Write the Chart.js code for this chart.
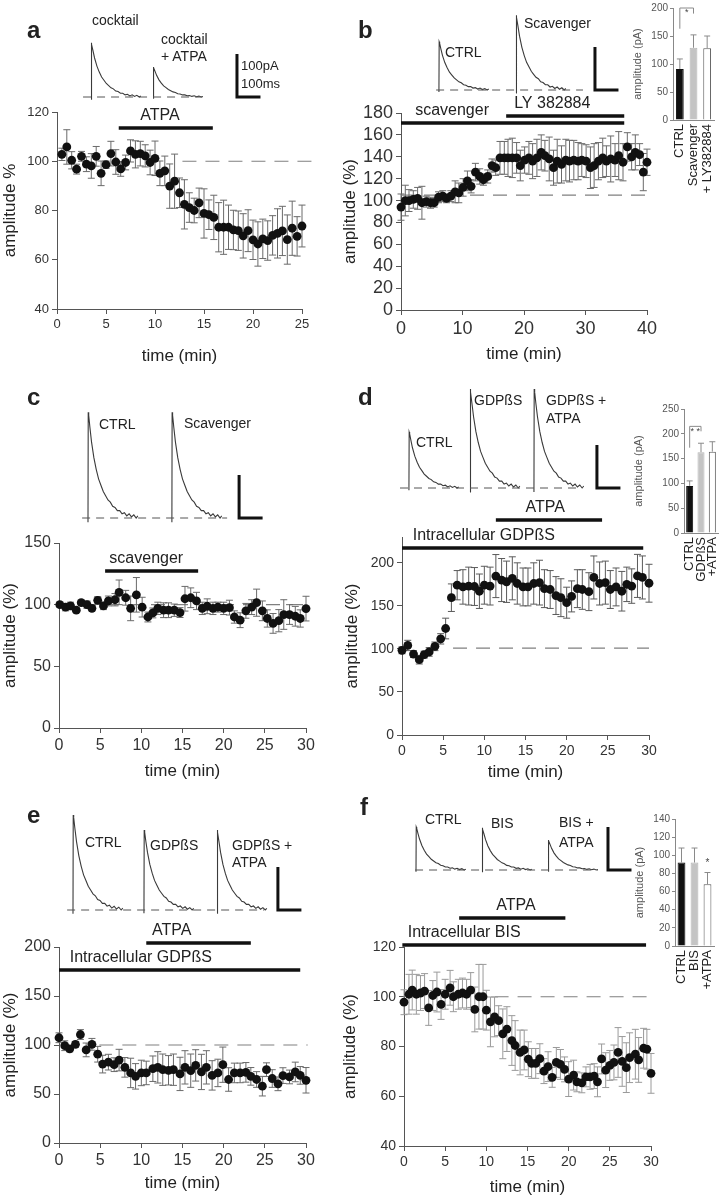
<!DOCTYPE html>
<html>
<head>
<meta charset="utf-8">
<script src="https://cdn.jsdelivr.net/npm/chart.js@4.4.1/dist/chart.umd.min.js"></script>
<style>
  body { margin: 0; background: #fff; }
  #fig { position: relative; width: 726px; height: 1199px; overflow: hidden;
         font-family: "Liberation Sans", Arial, sans-serif; color: #222; }
  #fig canvas { position: absolute; }
  .t { position: absolute; white-space: nowrap; }
</style>
</head>
<body>
<div id="fig"></div>
<script>
// ---- panel a: ATPA in cocktail ----
const aTime = [0.5,1,1.5,2,2.5,3,3.5,4,4.5,5,5.5,6,6.5,7,7.5,8,8.5,9,9.5,10,10.5,11,11.5,12,12.5,13,13.5,14,14.5,15,15.5,16,16.5,17,17.5,18,18.5,19,19.5,20,20.5,21,21.5,22,22.5,23,23.5,24,24.5,25];
const aAmp = [102.8,105.8,100.4,96.8,102,98.8,98.1,102,95.1,98.6,103.1,99.7,96.9,99.5,104.2,102.8,103.1,102.2,99.5,101.2,95.1,96.1,89.9,91.9,87.2,82.5,81.2,80,83.1,78.8,78.3,77.2,73.2,73.2,73.2,72.1,71.8,69.7,71.8,68.1,66.4,68.5,67.8,69.9,70.7,71.7,68.2,72.8,69.5,73.7];
const aErr = [2.5,7,3.5,2,2,3,5,4,5,1.5,5,5,3,3,4.5,5.5,5,4.5,5,7,5,6,9,11,6,10,6,5,6,10,6,9,10,11,9,8,8,9,8.5,8,9,8,8,8,10,10,10,11,8,8.5];
const aDrugs = [['ATPA', 6.3, 15.9]];

// ---- panel b: scavenger then LY 382884 ----
const bTime = [0,0.7,1.3,2,2.7,3.4,4.1,4.8,5.4,6.1,6.8,7.4,8.1,8.8,9.4,10.1,10.8,11.4,12.1,12.8,13.4,14.1,14.8,15.4,16.1,16.8,17.4,18.1,18.8,19.4,20.1,20.8,21.4,22.1,22.8,23.4,24.1,24.8,25.4,26.1,26.8,27.4,28.1,28.8,29.4,30.1,30.8,31.4,32.1,32.8,33.4,34.1,34.8,35.4,36.1,36.8,37.5,38.1,38.8,39.4,40];
const bAmp = [94,100,100,101,102,98,99,98,98,103,104,102,104,108,107,112,118,113,126,122,119,122,132,130,139,139,139,139,139,132,137,139,136,139,144,141,138,130,136,133,137,136,137,136,137,136,130,132,136,139,136,138,137,141,135,149,140,144,142,126,135];
const bErr = [12,14,10,8,10,15,5,5,4,5,5,4,5,10,9,8,9,6,8,7,5,6,6,7,15,15,17,18,14,14,12,15,16,17,16,14,20,16,20,17,19,19,18,17,15,15,19,20,17,18,14,21,15,22,17,13,12,16,10,17,12];
const bDrugs = [['scavenger', 0, 36.3], ['LY 382884', 17.1, 36.3]];
const bBarCats = ['CTRL', 'Scavenger', '+ LY382884'];
const bBarMean = [91, 129, 128];
const bBarSem = [18, 23, 22];

// ---- panel c: scavenger alone ----
const cTime = [0.1,0.8,1.4,2.1,2.7,3.4,4,4.7,5.4,6,6.8,7.3,8.1,8.7,9.4,10.1,10.8,11.4,12,12.7,13.3,14,14.7,15.3,16,16.7,17.4,18,18.7,19.3,20,20.7,21.3,22,22.7,23.4,24,24.7,25.3,26,26.7,27.3,28,28.7,29.3,30];
const cAmp = [100,98,99,95.5,101.6,100,97,103.5,99,103,104,110,105.6,97,108,98,90,93.3,97,95.5,95.5,95.5,93.6,104.8,105.6,103,97,98.7,97,98,97,97.6,90,87.4,95,98,101.6,95,88.8,84.8,87,92,92,90.6,88.8,96.8];
const cErr = [2,3,3,2,2,3,2,3,3,4,5,10,6,10,14,8,4,4,5,6,6,5,4,10,8,7,5,6,5,4,5,6,5,6,6,6,11,8,7,8,9,12,8,8,7,10];
const cDrugs = [['scavenger', 5.6, 16.9]];

// ---- panel d: intracellular GDPbS, then ATPA ----
const dTime = [0,0.7,1.4,2.1,2.7,3.3,4,4.7,5.3,6,6.7,7.4,8.1,8.8,9.4,10,10.7,11.4,12.1,12.7,13.4,14,14.7,15.3,16,16.7,17.3,18,18.7,19.3,20,20.6,21.3,21.9,22.7,23.3,24,24.7,25.3,26,26.7,27.3,27.9,28.6,29.2,30];
const dAmp = [98.4,104,94,87.5,93.4,96.5,103,111.7,123.7,159.5,174,172,173,172.5,167,174,173,184.6,180,178,182,176,172,172,176,177,170,169,162,159.5,153.7,161,170,169,166.5,183,176,177,169,172,167,175,173,184.8,183,176.3];
const dErr = [4,6,4,5,4,5,5,6,12,16,17,20,22,22,20,22,22,25,25,24,25,24,22,22,24,26,22,22,22,22,18,18,22,23,22,25,25,25,22,22,23,20,20,25,25,22];
const dDrugs = [['Intracellular GDPßS', 0, 29.3], ['ATPA', 11.4, 24.3]];
const dBarCats = ['CTRL', 'GDPßS', '+ATPA'];
const dBarMean = [95, 163, 164];
const dBarSem = [10, 18, 20];

// ---- panel e: GDPbS, ATPA still depresses ----
const eTime = [0,0.7,1.3,2,2.6,3.3,4,4.7,5.3,6,6.7,7.3,8,8.7,9.3,10,10.6,11.4,12,12.6,13.3,13.9,14.7,15.3,16,16.6,17.3,17.9,18.6,19.3,19.9,20.6,21.3,22,22.7,23.3,24,24.7,25.2,25.9,26.6,27.2,28,28.7,29.3,30];
const eAmp = [107.4,99.3,96,100.7,110.7,95,100.7,90.6,80.5,82.5,79.9,84.6,77.2,71.5,68,71.5,71.5,75.8,77.2,74.8,74.2,74.8,70.5,77.2,73.8,79.2,72.5,77.2,69,71.5,79.9,64.8,71.5,71.5,72.1,68,64.8,58,74.8,65.8,60.4,68.8,67.4,72.5,69,64];
const eErr = [5,5,3,3,5,7,6,8,9,8,7,11,10,15,13,13,12,13,16,16,15,16,17,17,17,16,18,17,15,14,18,12,10,10,10,9,8,10,7,9,7,8,7,10,9,13];
const eDrugs = [['Intracellular GDPßS', 0, 29.3], ['ATPA', 10.6, 23.3]];

// ---- panel f: intracellular BIS ----
const fTime = [0,0.6,1,1.5,2,2.5,3,3.5,4,4.5,5,5.6,6,6.6,7.1,7.6,8.1,8.6,9.1,9.6,10,10.5,11,11.5,12,12.5,13.1,13.5,14.1,14.6,15.1,15.5,16,16.5,17,17.5,18,18.5,19,19.5,20,20.6,21,21.6,22.1,22.6,23.1,23.5,24,24.5,25,25.5,26,26.5,27,27.4,28.1,28.5,29.1,29.5,30];
const fAmp = [97.8,101,102.7,101,101.5,102.3,95.5,100.5,101.9,96.9,101,103.6,100,101,101.5,101,102.7,94.9,100,100,94.6,89.9,91.9,90.4,85.1,87,82.4,80.4,77.6,78.6,74.9,73.2,73.2,75.1,70.1,71.9,67.6,73.6,72.8,70.8,66.9,68.5,65.8,65.4,67.8,67.8,68.1,65.8,75,70.5,72.4,73.6,77.6,74,71.5,75.5,76.9,74.6,79.3,78.9,69.2];
const fErr = [5,8,8,8,7,7,7,6,8,6,6,7,6,6,6,6,7,9,13,13,8,10,8,6,10,9,10,10,9,8,7,6,6,6,5,6,4,6,6,5,7,6,4,4,4,5,5,6,6,7,6,7,10,10,10,10,10,9,8,8,8];
const fDrugs = [['Intracellular BIS', -0.2, 29.4], ['ATPA', 6.7, 19.6]];
const fBarCats = ['CTRL', 'BIS', '+ATPA'];
const fBarMean = [92, 92, 68];
const fBarSem = [16, 16, 13];

// ---- sample current traces (ms after onset, fraction of peak) ----
const traceMs   = [0,1,3,8,15,25,35,45,55,65,75,85,95,105,115,125,135,145,155,165,175,185,195,205,212];
const traceFrac = [-0.04,1,0.97,0.86,0.72,0.57,0.46,0.37,0.31,0.25,0.21,0.17,0.15,0.11,0.1,0.07,0.07,0.04,0.05,0.02,0.04,0.01,0.03,0,0.02];

const FONT = '"Liberation Sans", Arial, sans-serif';
Chart.defaults.font.family = FONT;
Chart.defaults.color = '#222';
const fig = document.getElementById('fig');

function canvasAt(b) {
  const c = document.createElement('canvas');
  c.width = b.w; c.height = b.h;
  c.style.left = b.x + 'px'; c.style.top = b.y + 'px';
  fig.appendChild(c);
  return c;
}

function label(text, x, cy, size, align, bold) {
  const d = document.createElement('div');
  d.className = 't';
  d.textContent = text;
  d.style.fontSize = size + 'px';
  d.style.lineHeight = size + 'px';
  d.style.top = (cy - size / 2) + 'px';
  d.style.left = x + 'px';
  if (align === 'center') d.style.transform = 'translateX(-50%)';
  if (bold) d.style.fontWeight = 'bold';
  fig.appendChild(d);
}

function mainChart(c) {
  const { box, plot } = c;
  const padLeft = Math.max(0, c.yTitleX - box.x - 10);
  const yW = plot.l - box.x - padLeft;
  const xH = c.xTitleY + 10 - plot.b;
  const decor = {
    id: 'decor',
    beforeDatasetsDraw(chart) {
      const ctx = chart.ctx, x = chart.scales.x, y = chart.scales.y;
      ctx.save();
      const py = y.getPixelForValue(c.dash[2]);
      ctx.strokeStyle = '#808080'; ctx.lineWidth = 1.2; ctx.setLineDash([14, 9]);
      ctx.beginPath(); ctx.moveTo(x.getPixelForValue(c.dash[0]), py); ctx.lineTo(x.getPixelForValue(c.dash[1]), py); ctx.stroke();
      ctx.setLineDash([]);
      ctx.strokeStyle = c.errColor; ctx.lineWidth = 1;
      const pts = chart.getDatasetMeta(0).data;
      c.err.forEach((e, i) => {
        const px = pts[i].x;
        const top = y.getPixelForValue(c.amp[i] + e), bot = y.getPixelForValue(c.amp[i] - e);
        ctx.beginPath();
        ctx.moveTo(px, top); ctx.lineTo(px, bot);
        ctx.moveTo(px - 3.5, top); ctx.lineTo(px + 3.5, top);
        ctx.moveTo(px - 3.5, bot); ctx.lineTo(px + 3.5, bot);
        ctx.stroke();
      });
      ctx.restore();
    },
    afterDatasetsDraw(chart) {
      const ctx = chart.ctx, x = chart.scales.x;
      ctx.save();
      c.drugs.forEach((d, k) => {
        const L = c.drugLay[k], py = L.y - box.y;
        ctx.strokeStyle = '#111'; ctx.lineWidth = 3.5;
        ctx.beginPath(); ctx.moveTo(x.getPixelForValue(d[1]), py); ctx.lineTo(x.getPixelForValue(d[2]), py); ctx.stroke();
        ctx.fillStyle = '#222'; ctx.font = '16px ' + FONT;
        ctx.textAlign = L.align; ctx.textBaseline = 'middle';
        ctx.fillText(d[0], x.getPixelForValue(L.lx), py - 12);
      });
      ctx.restore();
    }
  };
  const tickFont = { size: c.tick };
  new Chart(canvasAt(box), {
    type: 'scatter',
    data: { datasets: [{
      data: c.time.map((t, i) => ({ x: t, y: c.amp[i] })),
      pointRadius: 4.4, pointHoverRadius: 4.4, pointBorderWidth: 0,
      pointBackgroundColor: '#111', borderColor: '#111', clip: false
    }] },
    options: {
      animation: false, responsive: false, events: [],
      plugins: { legend: { display: false }, tooltip: { enabled: false } },
      layout: { padding: { left: padLeft, top: plot.t - box.y, right: box.x + box.w - plot.r,
                           bottom: box.y + box.h - plot.b - xH } },
      scales: {
        x: {
          type: 'linear', min: c.xr[0], max: c.xr[1],
          ticks: { stepSize: c.xr[2], font: tickFont, color: '#333', maxRotation: 0, autoSkip: false, padding: 3 },
          grid: { drawOnChartArea: false, tickLength: 5, color: '#555' },
          border: { color: '#555' },
          title: { display: true, text: 'time (min)', font: { size: 17 }, color: '#222', padding: 0 },
          afterFit: s => { s.height = xH; }
        },
        y: {
          min: c.yr[0], max: c.yr[1],
          ticks: { stepSize: c.yr[2], font: tickFont, color: '#333', autoSkip: false, padding: 3 },
          grid: { drawOnChartArea: false, tickLength: 5, color: '#555' },
          border: { color: '#555' },
          title: { display: true, text: c.yTitle, font: { size: 17 }, color: '#222', padding: 0 },
          afterBuildTicks: s => { s.ticks = s.ticks.filter(t => Math.abs((t.value - c.yr[0]) % c.yr[2]) < 1e-6); },
          afterFit: s => { s.width = yW; }
        }
      }
    },
    plugins: [decor]
  });
}

function insetChart(c) {
  const { box, plot } = c;
  const padLeft = c.yTitleX - box.x - 6.6;
  const yW = plot.l - box.x - padLeft;
  const xH = box.y + box.h - plot.b - 2;
  const marks = {
    id: 'marks',
    afterDatasetsDraw(chart) {
      const ctx = chart.ctx, x = chart.scales.x, y = chart.scales.y;
      ctx.save();
      ctx.strokeStyle = '#8a8a8a'; ctx.lineWidth = 1;
      c.sem.forEach((e, i) => {
        const px = x.getPixelForValue(i), t = y.getPixelForValue(c.mean[i] + e), b = y.getPixelForValue(c.mean[i]);
        ctx.beginPath(); ctx.moveTo(px, b); ctx.lineTo(px, t); ctx.moveTo(px - 3, t); ctx.lineTo(px + 3, t); ctx.stroke();
      });
      ctx.fillStyle = '#444'; ctx.textAlign = 'center'; ctx.textBaseline = 'middle';
      if (c.bracket) {
        const br = c.bracket, x0 = x.getPixelForValue(0), x1 = x.getPixelForValue(1), ty = y.getPixelForValue(br.top);
        ctx.beginPath();
        ctx.moveTo(x0, y.getPixelForValue(br.low[0])); ctx.lineTo(x0, ty); ctx.lineTo(x1, ty); ctx.lineTo(x1, y.getPixelForValue(br.low[1]));
        ctx.stroke();
        ctx.font = '9px ' + FONT;
        ctx.fillText(br.star, (x0 + x1) / 2, ty + 5);
      }
      if (c.star) {
        ctx.font = '10px ' + FONT;
        ctx.fillText('*', x.getPixelForValue(c.star.i), y.getPixelForValue(c.star.v));
      }
      // rotated category names, centred on each bar
      ctx.fillStyle = '#222'; ctx.font = c.catSize + 'px ' + FONT;
      ctx.textAlign = 'right'; ctx.textBaseline = 'middle';
      chart.data.labels.forEach((lab, i) => {
        ctx.save();
        ctx.translate(x.getPixelForValue(i), x.top + 4);
        ctx.rotate(-Math.PI / 2);
        ctx.fillText(lab, 0, 0);
        ctx.restore();
      });
      ctx.restore();
    }
  };
  new Chart(canvasAt(box), {
    type: 'bar',
    data: { labels: c.cats, datasets: [{
      data: c.mean,
      backgroundColor: ['#111', '#c4c4c4', '#fff'],
      borderColor: ['#111', '#b5b5b5', '#555'], borderWidth: 1,
      barPercentage: 1, categoryPercentage: c.barFrac
    }] },
    options: {
      animation: false, responsive: false, events: [],
      plugins: { legend: { display: false }, tooltip: { enabled: false } },
      layout: { padding: { left: padLeft, top: plot.t - box.y, right: box.x + box.w - plot.r, bottom: 2 } },
      scales: {
        x: {
          ticks: { display: false },
          grid: { display: false }, border: { color: '#888' },
          afterFit: s => { s.height = xH; }
        },
        y: {
          min: 0, max: c.yr[0],
          ticks: { stepSize: c.yr[1], font: { size: 10 }, color: '#555', padding: 2, autoSkip: false },
          grid: { drawOnChartArea: false, tickLength: 3, color: '#888' }, border: { color: '#888' },
          title: { display: true, text: 'amplitude (pA)', font: { size: 11 }, color: '#555', padding: 0 },
          afterFit: s => { s.width = yW; }
        }
      }
    },
    plugins: [marks]
  });
}

function traceChart(box, x0, y0, onsets, peaks, dash, barAt) {
  const kx = 0.235, ky = 0.43;
  const ds = [{ data: [{ x: dash[0], y: 0 }, { x: dash[1], y: 0 }], borderColor: '#555', borderWidth: 1, borderDash: [8, 6] }];
  onsets.forEach((on, k) => {
    ds.push({ data: traceMs.map((m, i) => ({ x: on + m, y: peaks[k] * traceFrac[i] })), borderColor: '#3a3a3a', borderWidth: 1.1 });
  });
  ds.push({ data: [{ x: barAt, y: 100 }, { x: barAt, y: 0 }, { x: barAt + 100, y: 0 }], borderColor: '#111', borderWidth: 3, borderJoinStyle: 'miter' });
  new Chart(canvasAt(box), {
    type: 'scatter',
    data: { datasets: ds.map(d => Object.assign({ showLine: true, pointRadius: 0, fill: false, tension: 0, clip: false }, d)) },
    options: {
      animation: false, responsive: false, events: [],
      plugins: { legend: { display: false }, tooltip: { enabled: false } },
      layout: { padding: 0 },
      scales: {
        x: { type: 'linear', display: false, min: (box.x - x0) / kx, max: (box.x + box.w - x0) / kx },
        y: { display: false, min: (y0 - box.y - box.h) / ky, max: (y0 - box.y) / ky }
      }
    }
  });
}

// ---- main time-course plots ----
mainChart({ box: { x: 0, y: 0, w: 340, h: 380 }, plot: { l: 57, t: 112, r: 302, b: 309 }, xTitleY: 357, yTitleX: 9,
  xr: [0, 25, 5], yr: [40, 120, 20], tick: 13, yTitle: 'amplitude %', time: aTime, amp: aAmp, err: aErr, errColor: '#6a6a6a',
  dash: [12.8, 26, 100], drugs: aDrugs, drugLay: [{ y: 128, lx: 10.5, align: 'center' }] });
mainChart({ box: { x: 335, y: 0, w: 330, h: 380 }, plot: { l: 401, t: 113, r: 647, b: 310 }, xTitleY: 355, yTitleX: 350,
  xr: [0, 40, 10], yr: [0, 180, 20], tick: 18, yTitle: 'amplitude (%)', time: bTime, amp: bAmp, err: bErr, errColor: '#6a6a6a',
  dash: [0, 40.5, 105], drugs: bDrugs, drugLay: [{ y: 123, lx: 2.3, align: 'left' }, { y: 116, lx: 18.4, align: 'left' }] });
mainChart({ box: { x: 0, y: 390, w: 340, h: 400 }, plot: { l: 59, t: 543, r: 306, b: 728 }, xTitleY: 772, yTitleX: 9,
  xr: [0, 30, 5], yr: [0, 150, 50], tick: 16, yTitle: 'amplitude (%)', time: cTime, amp: cAmp, err: cErr, errColor: '#6a6a6a',
  dash: [0, 30, 100], drugs: cDrugs, drugLay: [{ y: 571, lx: 10.6, align: 'center' }] });
mainChart({ box: { x: 335, y: 390, w: 330, h: 400 }, plot: { l: 402, t: 537, r: 649, b: 735 }, xTitleY: 773, yTitleX: 352,
  xr: [0, 30, 5], yr: [0, 230, 50], tick: 14, yTitle: 'amplitude (%)', time: dTime, amp: dAmp, err: dErr, errColor: '#5a5a5a',
  dash: [6.2, 30, 101], drugs: dDrugs, drugLay: [{ y: 548, lx: 1.3, align: 'left' }, { y: 520, lx: 17.4, align: 'center' }] });
mainChart({ box: { x: 0, y: 800, w: 340, h: 399 }, plot: { l: 59, t: 947, r: 306, b: 1143 }, xTitleY: 1184, yTitleX: 9,
  xr: [0, 30, 5], yr: [0, 200, 50], tick: 16, yTitle: 'amplitude (%)', time: eTime, amp: eAmp, err: eErr, errColor: '#6a6a6a',
  dash: [4.9, 30.2, 100], drugs: eDrugs, drugLay: [{ y: 970, lx: 1.3, align: 'left' }, { y: 943, lx: 13.7, align: 'center' }] });
mainChart({ box: { x: 335, y: 800, w: 330, h: 399 }, plot: { l: 404, t: 947, r: 651, b: 1146 }, xTitleY: 1188, yTitleX: 350,
  xr: [0, 30, 5], yr: [40, 120, 20], tick: 14, yTitle: 'amplitude (%)', time: fTime, amp: fAmp, err: fErr, errColor: '#9a9a9a',
  dash: [11, 30.3, 100], drugs: fDrugs, drugLay: [{ y: 945, lx: 0.45, align: 'left' }, { y: 918, lx: 13.6, align: 'center' }] });

// ---- inset bar charts ----
insetChart({ box: { x: 600, y: 0, w: 126, h: 200 }, plot: { l: 673, t: 4, r: 714, b: 120 }, yTitleX: 638,
  yr: [200, 50], cats: bBarCats, mean: bBarMean, sem: bBarSem, barFrac: 0.57, catSize: 13,
  bracket: { top: 200, low: [163, 190], star: '*' } });
insetChart({ box: { x: 600, y: 400, w: 126, h: 190 }, plot: { l: 684, t: 409, r: 718, b: 533 }, yTitleX: 639,
  yr: [250, 50], cats: dBarCats, mean: dBarMean, sem: dBarSem, barFrac: 0.62, catSize: 13,
  bracket: { top: 215, low: [172, 205], star: '* *' } });
insetChart({ box: { x: 600, y: 805, w: 126, h: 190 }, plot: { l: 675, t: 819, r: 714, b: 946 }, yTitleX: 640,
  yr: [140, 20], cats: fBarCats, mean: fBarMean, sem: fBarSem, barFrac: 0.6, catSize: 13,
  star: { i: 2, v: 91 } });

// ---- example currents with 100 pA / 100 ms scale bars ----
traceChart({ x: 75, y: 35, w: 200, h: 70 }, 80, 97, [47, 311], [126, 70], [13, 520], 668);
traceChart({ x: 425, y: 5, w: 205, h: 95 }, 430, 90, [38, 366], [112, 174], [26, 651], 702);
traceChart({ x: 75, y: 405, w: 200, h: 120 }, 80, 518, [34, 391], [246, 246], [9, 626], 677);
traceChart({ x: 395, y: 355, w: 235, h: 140 }, 400, 488, [38, 298, 570], [130, 230, 230], [0, 770], 838);
traceChart({ x: 60, y: 808, w: 250, h: 110 }, 65, 910, [34, 336, 647], [221, 186, 186], [9, 847], 906);
traceChart({ x: 408, y: 815, w: 230, h: 60 }, 412, 870, [17, 298, 579], [100, 98, 70], [13, 791], 834);

// ---- panel letters and trace labels ----
[['a', 27, 30], ['b', 358, 30], ['c', 27, 397], ['d', 358, 397], ['e', 27, 815], ['f', 360, 807]]
  .forEach(l => label(l[0], l[1], l[2], 24, 'left', true));
[
  ['cocktail', 92, 20, 14], ['cocktail', 161, 39, 14], ['+ ATPA', 161, 56, 14], ['100pA', 241, 65, 13], ['100ms', 241, 83, 13],
  ['CTRL', 445, 52, 14], ['Scavenger', 524, 23, 14],
  ['CTRL', 99, 424, 14], ['Scavenger', 184, 423, 14],
  ['CTRL', 416, 442, 14], ['GDPßS', 474, 400, 14], ['GDPßS +', 546, 400, 14], ['ATPA', 546, 418, 14],
  ['CTRL', 85, 842, 14], ['GDPßS', 150, 845, 14], ['GDPßS +', 232, 845, 14], ['ATPA', 232, 862, 14],
  ['CTRL', 425, 819, 14], ['BIS', 491, 823, 14], ['BIS +', 559, 822, 14], ['ATPA', 559, 842, 14]
].forEach(l => label(l[0], l[1], l[2], l[3], 'left', false));
</script>
</body>
</html>
